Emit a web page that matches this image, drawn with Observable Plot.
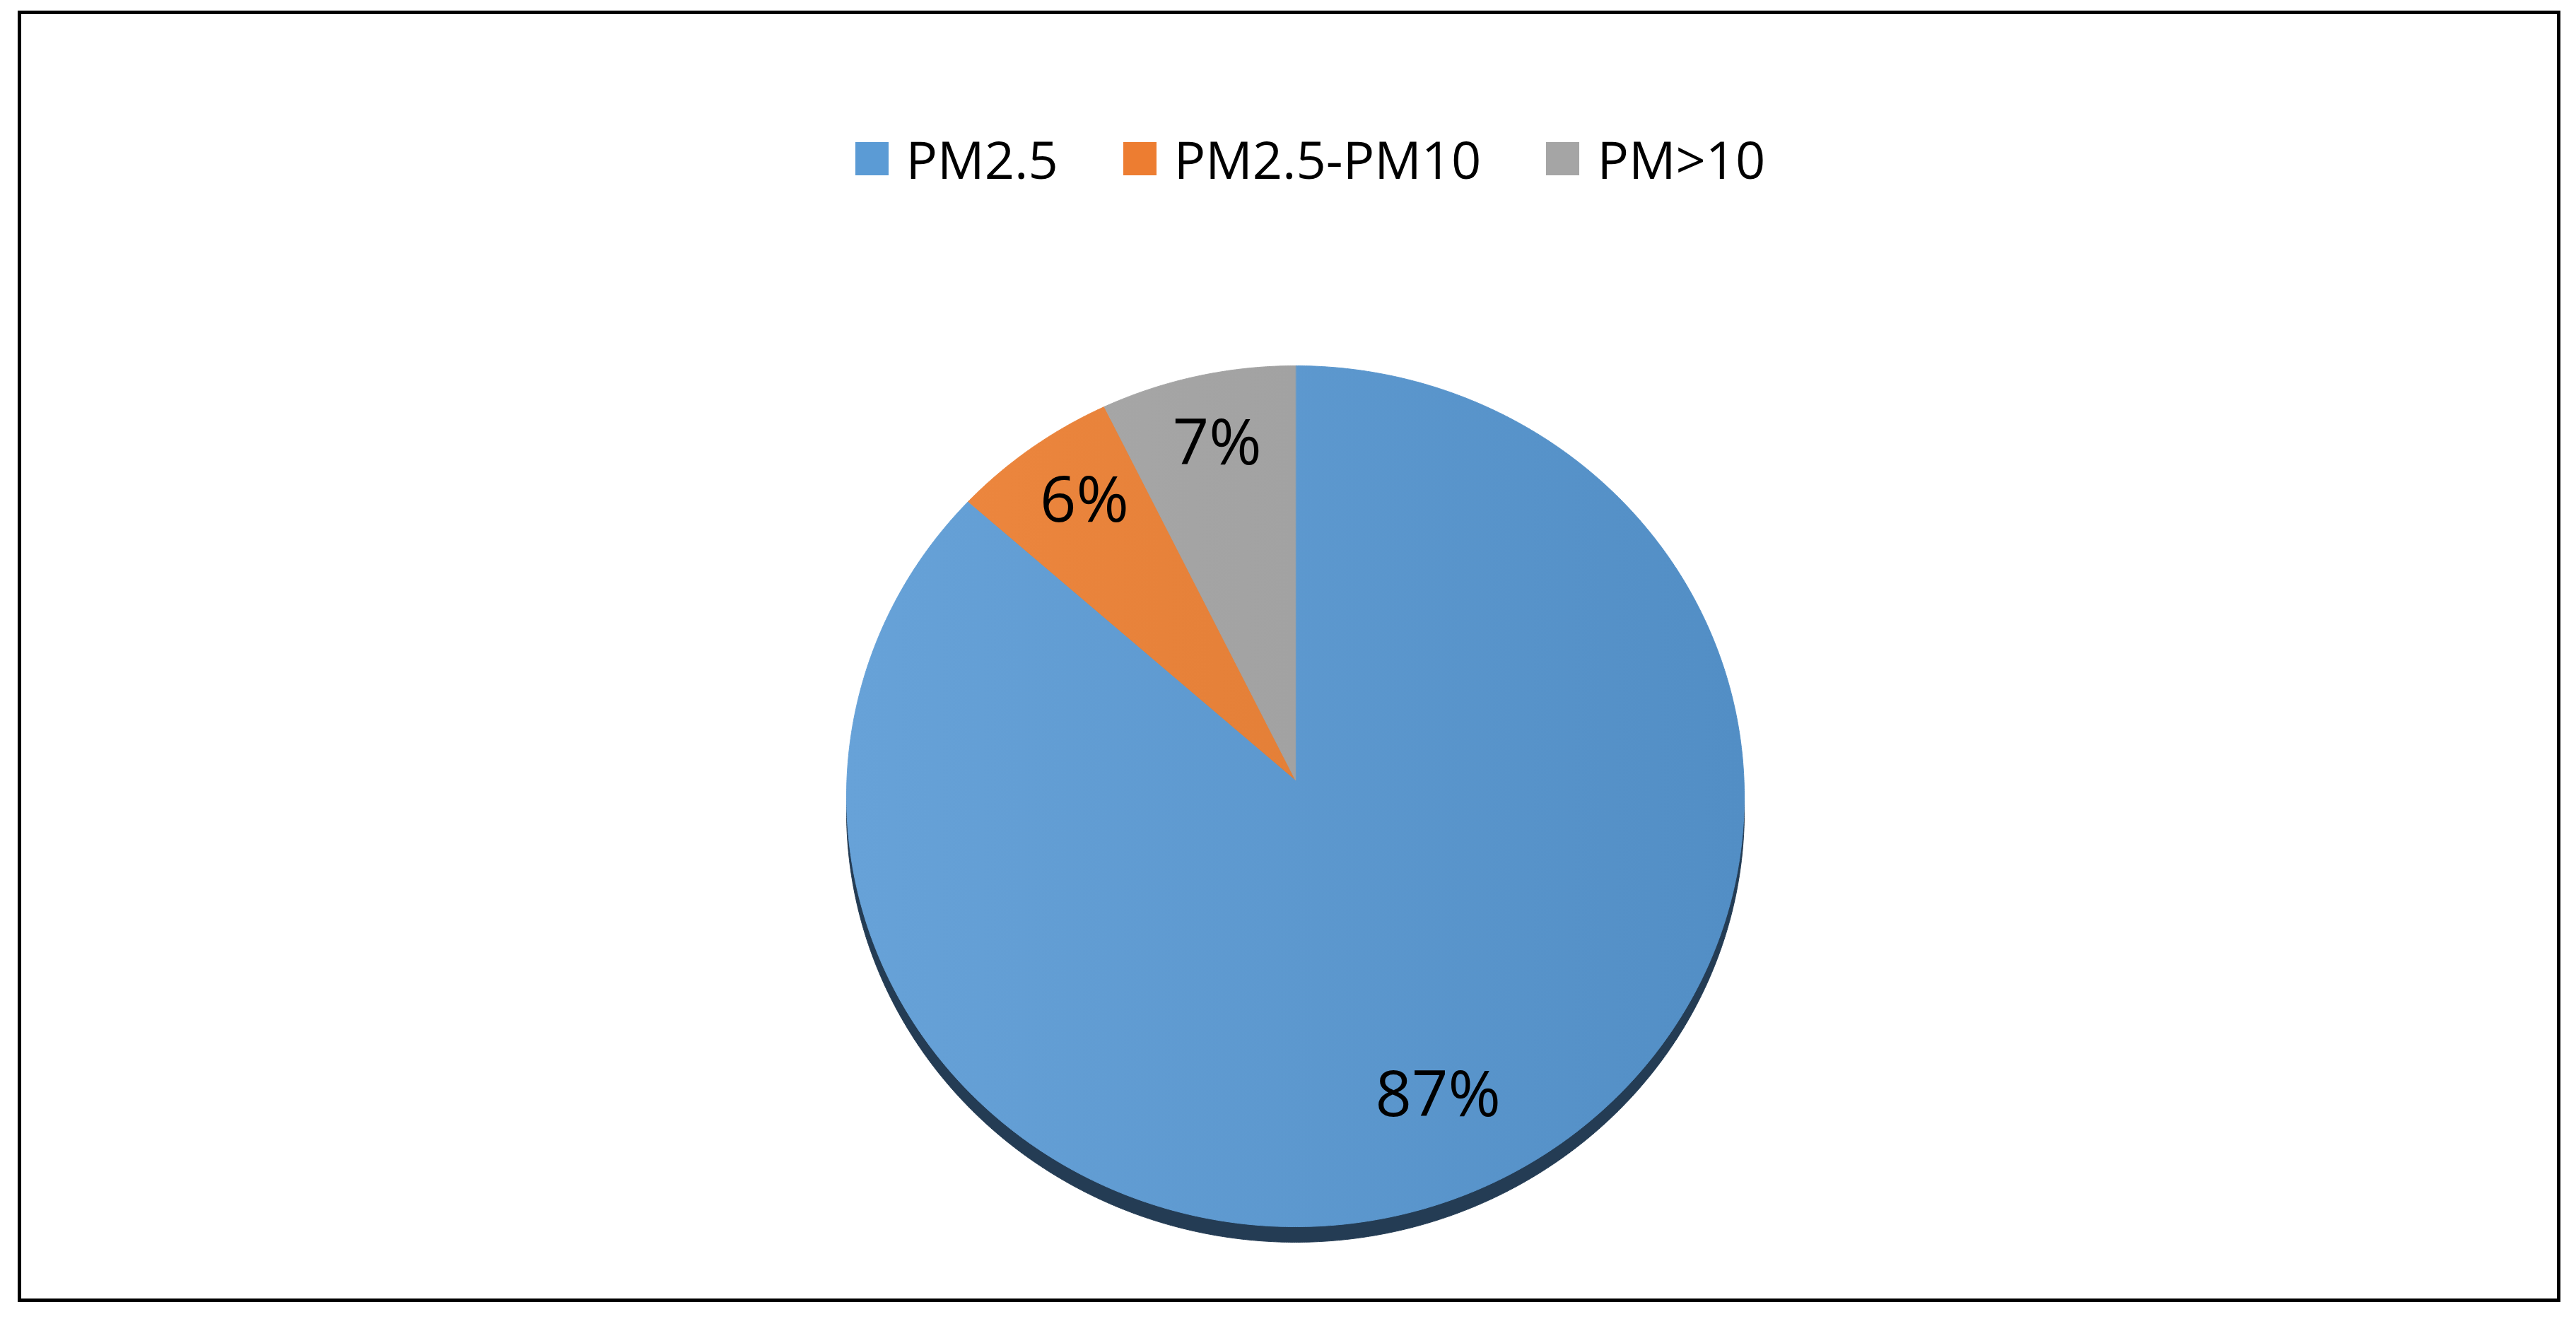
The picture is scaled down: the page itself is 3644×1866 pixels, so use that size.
<!DOCTYPE html>
<html>
<head>
<meta charset="utf-8">
<script src="https://cdn.jsdelivr.net/npm/d3@7"></script>
<script src="https://cdn.jsdelivr.net/npm/@observablehq/plot@0.6"></script>
<style>
  html, body { margin: 0; padding: 0; background: #fff; width: 3644px; height: 1866px; overflow: hidden; }
  #chart { position: absolute; left: 0; top: 0; }
  #frame { position: absolute; left: 25px; top: 15px; width: 3597px; height: 1827px; border: 5px solid #000; box-sizing: border-box; }
  #legend { position: absolute; left: 63px; top: 174px; width: 3581px; }
  #legend .lg-swatches { justify-content: center; margin: 0; font-size: 74px; font-family: "Open Sans", sans-serif; color: #000; line-height: 101px; }
  #legend .lg-swatch { margin-right: 92px; }
  #legend .lg-swatch:last-child { margin-right: 0; }
  #legend .lg-swatch > svg { margin-right: 25px; }
</style>
</head>
<body>
<div id="frame"></div>
<div id="chart"></div>
<div id="legend"></div>
<script>
// ---- data ----
const categories = ["PM2.5", "PM2.5-PM10", "PM>10"];
const shares = [87, 6, 7];
const labels = ["87%", "6%", "7%"];

// ---- styling ----
const palette = ["#5b9bd5", "#ed7d31", "#a5a5a5"];
const gradients = [
  ["#67a2d8", "#528ec5"],
  ["#ef8840", "#d9772f"],
  ["#ababab", "#999999"]
];
const sideColor = "#243c54";
const apexY = 0.038;   // perspective offset of the pie centre
const depth = 0.036;   // thickness of the 3-D side
const labelR = 0.8;

// ---- geometry from data ----
const arcs = d3.pie().sort(null).value(d => d)(shares);
const step = Math.PI / 720;

const slices = arcs.map((a, i) => {
  const pts = [{x: 0, y: apexY}];
  for (let t = a.startAngle; t < a.endAngle; t += step) pts.push({x: Math.sin(t), y: Math.cos(t)});
  pts.push({x: Math.sin(a.endAngle), y: Math.cos(a.endAngle)});
  return pts;
});

const side = [];
for (let t = 0; t < 2 * Math.PI; t += step) side.push({x: Math.sin(t), y: Math.cos(t) - depth});

const labelData = arcs.map((a, i) => {
  const m = (a.startAngle + a.endAngle) / 2;
  return {x: labelR * Math.sin(m), y: apexY + labelR * Math.cos(m), text: labels[i]};
});

const plot = Plot.plot({
  width: 3644,
  height: 1866,
  margin: 0,
  style: {background: "none", fontFamily: "'Open Sans', sans-serif"},
  x: {domain: [-1, 1], range: [1197, 2467], axis: null},
  y: {domain: [-1, 1], range: [1735, 517], axis: null},
  marks: [
    Plot.line(side, {x: "x", y: "y", fill: sideColor, stroke: sideColor, strokeWidth: 1, curve: "linear-closed"}),
    ...slices.map((pts, i) => Plot.line(pts, {
      x: "x", y: "y", fill: `url(#grad${i})`, stroke: `url(#grad${i})`, strokeWidth: 1, curve: "linear-closed"
    })),
    Plot.text(labelData, {x: "x", y: "y", text: "text", fontSize: 90, fill: "#000", fontFamily: "'Open Sans', sans-serif"})
  ]
});

// gradients for the subtle Excel-style shading
const ns = "http://www.w3.org/2000/svg";
const defs = document.createElementNS(ns, "defs");
gradients.forEach((g, i) => {
  const lg = document.createElementNS(ns, "linearGradient");
  lg.setAttribute("id", `grad${i}`);
  lg.setAttribute("gradientUnits", "userSpaceOnUse");
  lg.setAttribute("x1", 1197); lg.setAttribute("x2", 2467);
  lg.setAttribute("y1", 0); lg.setAttribute("y2", 0);
  g.forEach((c, k) => {
    const s = document.createElementNS(ns, "stop");
    s.setAttribute("offset", k === 0 ? "0%" : "100%");
    s.setAttribute("stop-color", c);
    lg.appendChild(s);
  });
  defs.appendChild(lg);
});
plot.insertBefore(defs, plot.firstChild);
document.getElementById("chart").appendChild(plot);

const legend = Plot.legend({
  legend: "swatches",
  color: {type: "ordinal", domain: categories, range: palette},
  swatchSize: 47,
  className: "lg"
});
document.getElementById("legend").appendChild(legend);
</script>
</body>
</html>
